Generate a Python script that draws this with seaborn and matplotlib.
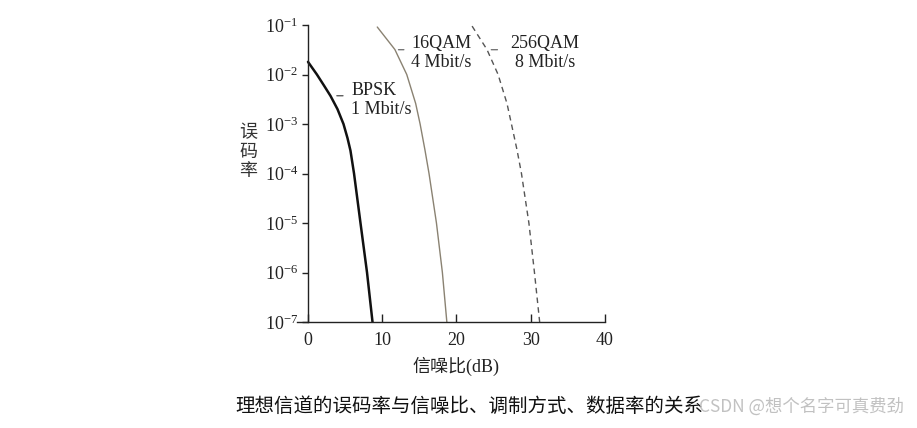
import matplotlib
matplotlib.use("Agg")
import matplotlib.pyplot as plt
import seaborn as sns
import pandas as pd
from matplotlib.ticker import FixedLocator, NullLocator, LogFormatterSciNotation

# ---- data ----
bpsk_snr = [0, 1.2, 2.15, 3.03, 3.97, 4.78, 5.32, 5.72, 6.2, 7.07, 7.95, 8.69]
bpsk_ber = [1.8e-2, 1e-2, 6e-3, 3.7e-3, 2e-3, 1e-3, 5.2e-4, 2.9e-4, 1e-4,
            1e-5, 1e-6, 1e-7]
qam16_snr = [9.33, 11.7, 13.3, 14.5, 15.1, 15.75, 16.3, 17.3, 18.1, 18.7]
qam16_ber = [9.1e-2, 3.2e-2, 1e-2, 2.6e-3, 1e-3, 3e-4, 1e-4, 1e-5, 1e-6, 1e-7]
qam256_snr = [22.1, 24.1, 25.6, 26.8, 27.4, 28.15, 28.75, 29.75, 30.5, 31.2]
qam256_ber = [9.5e-2, 3.2e-2, 1e-2, 2.6e-3, 1e-3, 3e-4, 1e-4, 1e-5, 1e-6, 1e-7]

x_ticks = [0, 10, 20, 30, 40]
y_ticks = [1e-7, 1e-6, 1e-5, 1e-4, 1e-3, 1e-2, 1e-1]

labels = ["BPSK\n1 Mbit/s", "16QAM\n4 Mbit/s", "256QAM\n8 Mbit/s"]
x_label = "信噪比(dB)"
y_label = "误\n码\n率"
caption = "理想信道的误码率与信噪比、调制方式、数据率的关系"
watermark = "CSDN @想个名字可真费劲"

sns.set_style("ticks")
plt.rcParams["font.family"] = ["Liberation Serif", "Noto Sans CJK SC", "DejaVu Sans"]
plt.rcParams["mathtext.fontset"] = "custom"
plt.rcParams["mathtext.rm"] = "Liberation Serif"
plt.rcParams["mathtext.it"] = "Liberation Serif:italic"
plt.rcParams["axes.unicode_minus"] = True

fig = plt.figure(figsize=(9.17, 4.28), dpi=100)
ax = fig.add_axes([297 / 917, 106 / 428, (605 - 297) / 917, (322 - 25) / 428])

df_b = pd.DataFrame({"snr": bpsk_snr, "ber": bpsk_ber})
df_16 = pd.DataFrame({"snr": qam16_snr, "ber": qam16_ber})
df_256 = pd.DataFrame({"snr": qam256_snr, "ber": qam256_ber})

sns.lineplot(data=df_b, x="snr", y="ber", ax=ax, color="#111111", lw=1.8, sort=False)
sns.lineplot(data=df_16, x="snr", y="ber", ax=ax, color="#8a8272", lw=1.0, sort=False)
sns.lineplot(data=df_256, x="snr", y="ber", ax=ax, color="#555555", lw=1.0,
             sort=False, linestyle=(0, (4, 3)))

ax.set_yscale("log")
ax.set_xlim(-1.48, 40)
ax.set_ylim(1e-7, 1e-1)
ax.xaxis.set_major_locator(FixedLocator(x_ticks))
ax.yaxis.set_major_locator(FixedLocator(y_ticks))
ax.yaxis.set_major_formatter(LogFormatterSciNotation())
ax.yaxis.set_minor_locator(NullLocator())
ax.xaxis.set_minor_locator(NullLocator())

for s in ["top", "right"]:
    ax.spines[s].set_visible(False)
ax.spines["left"].set_position(("data", 0))
for s in ["left", "bottom"]:
    ax.spines[s].set_linewidth(1.0)
    ax.spines[s].set_color("#222222")

ax.tick_params(axis="y", direction="out", length=4, width=1.0, pad=3,
               labelsize=13, colors="#222222")
ax.tick_params(axis="x", direction="in", length=6, width=1.0, pad=7,
               labelsize=13, colors="#222222")

ax.set_xlabel(x_label, fontsize=13, va="center", color="#222222")
ax.xaxis.set_label_coords(0.516, -0.148)
ax.set_ylabel(y_label, fontsize=13, rotation=0, va="center", ha="center",
              linespacing=1.2, color="#333333")
ax.yaxis.set_label_coords(-0.159, 0.572)

# curve labels with short leader lines
ax.annotate("", xy=(3.5, 10 ** -2.43), xytext=(5.1, 10 ** -2.43),
            arrowprops=dict(arrowstyle="-", lw=0.8, color="#333333"))
ax.text(5.8, 10 ** -2.52, labels[0], ha="left", va="center", fontsize=13,
        linespacing=1.15, color="#222222")

ax.annotate("", xy=(11.8, 10 ** -1.5), xytext=(13.3, 10 ** -1.5),
            arrowprops=dict(arrowstyle="-", lw=0.8, color="#555555"))
ax.text(18.0, 10 ** -1.57, labels[1], ha="center", va="center", fontsize=13,
        linespacing=1.15, color="#222222", multialignment="center")

ax.annotate("", xy=(24.3, 10 ** -1.5), xytext=(25.9, 10 ** -1.5),
            arrowprops=dict(arrowstyle="-", lw=0.8, color="#555555"))
ax.text(31.9, 10 ** -1.57, labels[2], ha="center", va="center", fontsize=13,
        linespacing=1.15, color="#222222", multialignment="center")

fig.text(235 / 917, 1 - 406 / 428, caption, ha="left", va="center",
         fontsize=14, color="#111111", family=["Noto Sans CJK SC", "DejaVu Sans"])
fig.text(904 / 917, 1 - 407 / 428, watermark, ha="right", va="center",
         fontsize=12.5, color="#bbbbbb", alpha=0.9,
         family=["Noto Sans CJK SC", "DejaVu Sans"])

fig.savefig("out.png", dpi=100, facecolor="white")
